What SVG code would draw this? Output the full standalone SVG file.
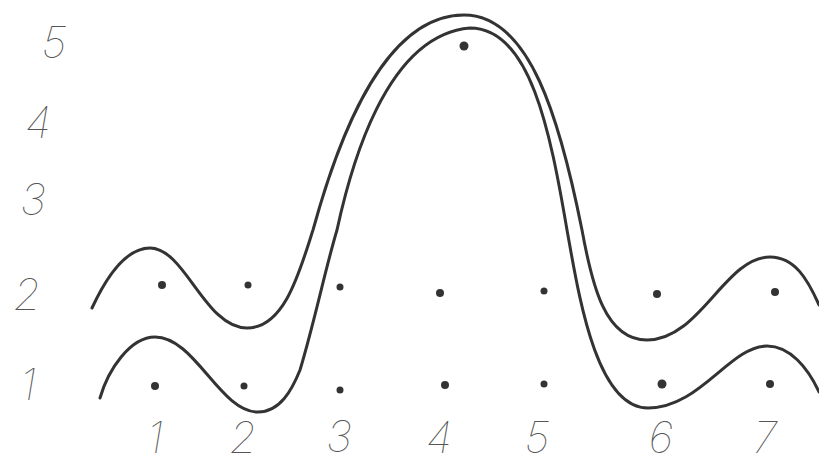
<svg xmlns="http://www.w3.org/2000/svg" width="819" height="466" viewBox="0 0 819 466">
<style>
.lbl{font-family:Inter,Roboto,Lato,"Liberation Sans",sans-serif;font-weight:100;font-style:italic;font-size:44px;fill:#555;text-anchor:middle}
.curve{fill:none;stroke:#333;stroke-width:3;stroke-linecap:round}
.dot{fill:#333}
</style>
<rect width="819" height="466" fill="#fff"/>
<g id="y-axis-labels">
<text class="lbl" x="54" y="58">5</text>
<text class="lbl" x="38" y="138">4</text>
<text class="lbl" x="33" y="215">3</text>
<text class="lbl" x="27" y="310">2</text>
<text class="lbl" x="28" y="400">1</text>
</g>
<g id="x-axis-labels">
<text class="lbl" x="155" y="453">1</text>
<text class="lbl" x="243" y="453">2</text>
<text class="lbl" x="339" y="452">3</text>
<text class="lbl" x="439" y="453">4</text>
<text class="lbl" x="537" y="453">5</text>
<text class="lbl" x="661" y="453">6</text>
<text class="lbl" x="765" y="453">7</text>
</g>
<g id="connectors">
<path id="curve-outer" class="curve" d="M92,308 C105,280 125,248 150,248 C185,248 205,328 247,328 C285,328 300,270 313,230 C335,150 380,15 464,15 C530,15 560,120 582,230 C592,285 605,340 647,340 C700,340 725,257 770,257 C795,257 808,280 819,305"/>
<path id="curve-inner" class="curve" d="M100,398 C108,370 130,337 155,337 C195,337 220,412 258,412 C280,412 292,390 300,370 C315,320 325,270 337,230 C350,170 385,35 470,28 C530,28 550,130 567,230 C578,290 595,408 648,408 C700,408 730,346 767,346 C790,346 808,368 819,392"/>
</g>
<g id="dots">
<circle class="dot" cx="464" cy="46" r="4.5"/>
<circle class="dot" cx="162" cy="285" r="4"/>
<circle class="dot" cx="248" cy="285" r="3.5"/>
<circle class="dot" cx="340" cy="287" r="3.5"/>
<circle class="dot" cx="440" cy="293" r="4"/>
<circle class="dot" cx="544" cy="291" r="3.5"/>
<circle class="dot" cx="657" cy="294" r="4"/>
<circle class="dot" cx="775" cy="292" r="4"/>
<circle class="dot" cx="155" cy="386" r="4"/>
<circle class="dot" cx="244" cy="386" r="3.5"/>
<circle class="dot" cx="340" cy="390" r="3.5"/>
<circle class="dot" cx="445" cy="385" r="4"/>
<circle class="dot" cx="544" cy="384" r="3.5"/>
<circle class="dot" cx="662" cy="384" r="4.5"/>
<circle class="dot" cx="770" cy="384" r="4"/>
</g>
</svg>
